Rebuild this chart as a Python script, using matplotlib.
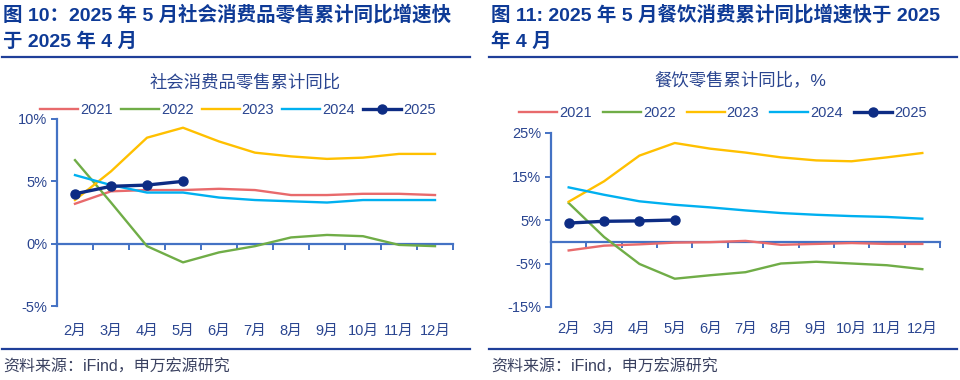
import matplotlib
matplotlib.use('Agg')
import matplotlib.pyplot as plt

plt.rcParams['font.family'] = ['Liberation Sans', 'Noto Sans CJK SC', 'DejaVu Sans']

#data
months = ['2月', '3月', '4月', '5月', '6月', '7月', '8月', '9月', '10月', '11月', '12月']
years = ['2021', '2022', '2023', '2024', '2025']

retail2021 = [3.2, 4.2, 4.3, 4.3, 4.4, 4.3, 3.9, 3.9, 4.0, 4.0, 3.9]
retail2022 = [6.7, 3.3, -0.2, -1.5, -0.7, -0.2, 0.5, 0.7, 0.6, -0.1, -0.2]
retail2023 = [3.5, 5.8, 8.5, 9.3, 8.2, 7.3, 7.0, 6.8, 6.9, 7.2, 7.2]
retail2024 = [5.5, 4.7, 4.1, 4.1, 3.7, 3.5, 3.4, 3.3, 3.5, 3.5, 3.5]
retail2025 = [4.0, 4.6, 4.7, 5.0]

cater2021 = [-2.0, -0.9, -0.6, -0.2, -0.1, 0.2, -0.7, -0.5, -0.3, -0.5, -0.5]
cater2022 = [8.9, 1.1, -5.1, -8.5, -7.7, -7.0, -5.0, -4.6, -5.0, -5.4, -6.3]
cater2023 = [9.2, 13.9, 19.8, 22.7, 21.4, 20.5, 19.4, 18.7, 18.5, 19.4, 20.4]
cater2024 = [12.5, 10.8, 9.3, 8.5, 7.9, 7.2, 6.6, 6.2, 5.9, 5.7, 5.3]
cater2025 = [4.3, 4.7, 4.8, 5.0]

#styles
colors = ['#E86A6C', '#70AD47', '#FFC000', '#00B0F0', '#0D2C84']
axisColor = '#4472C4'
textColor = '#2A4590'
titleColor = '#0E3A96'
ruleColor = '#1F3F99'
W, H = 960., 380.

fig = plt.figure(figsize=(9.6, 3.8), dpi=100)


def px(x0, y0, x1, y1):
    #pixel box (top-down) -> figure fraction rect
    return [x0 / W, 1 - y1 / H, (x1 - x0) / W, (y1 - y0) / H]


def drawPanel(box, series, ylim, yticks, labelPad, legendXY, colSpace):
    ax = fig.add_axes(px(*box))
    x = list(range(len(months)))
    handles = []
    for i, s in enumerate(series):
        if i == 4:
            h, = ax.plot(x[:len(s)], s, color=colors[i], lw=2.4, marker='o', ms=6.5, zorder=5)
        else:
            h, = ax.plot(x, s, color=colors[i], lw=1.7, zorder=3)
        handles.append(h)
    ax.set_xlim(-0.5, len(months) - 0.5)
    ax.set_ylim(*ylim)
    for k in ['top', 'right']:
        ax.spines[k].set_visible(False)
    ax.spines['left'].set_color(axisColor)
    ax.spines['left'].set_linewidth(1.6)
    ax.spines['bottom'].set_position(('data', 0))
    ax.spines['bottom'].set_color(axisColor)
    ax.spines['bottom'].set_linewidth(1.6)
    ax.set_yticks(yticks)
    ax.set_yticklabels(['%d%%' % v for v in yticks])
    ax.tick_params(axis='y', colors=axisColor, length=4, width=1.4, labelcolor=textColor, labelsize=10.5, pad=3)
    ax.set_xticks([v - 0.5 for v in range(len(months) + 1)])
    ax.set_xticklabels([])
    ax.tick_params(axis='x', colors=axisColor, length=4, width=1.4, direction='out')
    secx = ax.secondary_xaxis('bottom')
    secx.set_xticks(x)
    secx.set_xticklabels(months)
    secx.spines['bottom'].set_visible(False)
    secx.tick_params(length=0, labelcolor=textColor, labelsize=10.5, pad=labelPad)
    fig.legend(handles, years, loc='center', bbox_to_anchor=legendXY, ncol=5, frameon=False,
               fontsize=10.5, handlelength=2.6, columnspacing=colSpace, handletextpad=0.15, labelcolor=textColor)
    return ax


#left panel
drawPanel((57, 119, 453, 306), [retail2021, retail2022, retail2023, retail2024, retail2025],
          (-5, 10), [-5, 0, 5, 10], 13, (238 / W, 1 - 110 / H), 0.55)
fig.text(3 / W, 1 - 15 / H, '图 10：2025 年 5 月社会消费品零售累计同比增速快', fontsize=14, fontweight='bold',
         color=titleColor, va='center', ha='left')
fig.text(3 / W, 1 - 42 / H, '于 2025 年 4 月', fontsize=14, fontweight='bold', color=titleColor, va='center', ha='left')
fig.text(245 / W, 1 - 82 / H, '社会消费品零售累计同比', fontsize=12.5, color=textColor, ha='center', va='center')
fig.text(3 / W, 1 - 367 / H, '资料来源：iFind，申万宏源研究', fontsize=11.5, color='#3A4160', ha='left', va='center')

#right panel
drawPanel((551, 133, 940, 307), [cater2021, cater2022, cater2023, cater2024, cater2025],
          (-15, 25), [-15, -5, 5, 15, 25], 11, (723 / W, 1 - 113 / H), 0.75)
fig.text(491 / W, 1 - 15 / H, '图 11: 2025 年 5 月餐饮消费累计同比增速快于 2025', fontsize=14, fontweight='bold',
         color=titleColor, va='center', ha='left')
fig.text(491 / W, 1 - 42 / H, '年 4 月', fontsize=14, fontweight='bold', color=titleColor, va='center', ha='left')
fig.text(740 / W, 1 - 80 / H, '餐饮零售累计同比，%', fontsize=12.5, color=textColor, ha='center', va='center')
fig.text(491 / W, 1 - 367 / H, '资料来源：iFind，申万宏源研究', fontsize=11.5, color='#3A4160', ha='left', va='center')

#horizontal rules
for x0, x1 in [(2, 470), (489, 957)]:
    for y in [57, 349]:
        fig.add_artist(plt.Line2D([x0 / W, x1 / W], [1 - y / H, 1 - y / H], color=ruleColor, lw=1.6))

fig.savefig('out.png', dpi=100)
